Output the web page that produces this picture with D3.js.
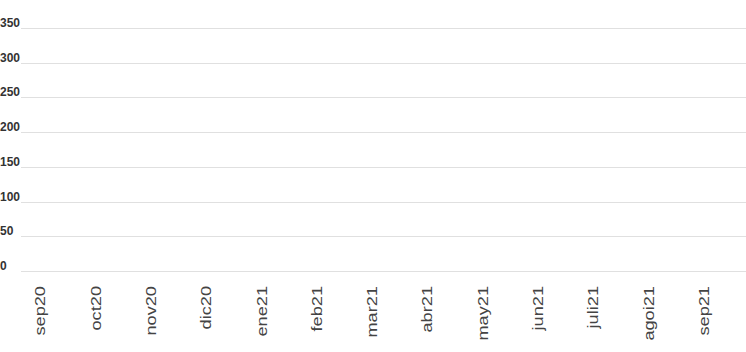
<!DOCTYPE html>
<html>
<head>
<meta charset="utf-8">
<script src="https://cdn.jsdelivr.net/npm/d3@7"></script>
<style>
  html, body { margin: 0; padding: 0; background: #fff; }
  svg { display: block; }
</style>
</head>
<body>
<svg id="chart" width="746" height="352"></svg>
<script>
const categories = ["sep20","oct20","nov20","dic20","ene21","feb21","mar21","abr21","may21","jun21","juli21","agoi21","sep21"];
const values = [0,0,0,0,0,0,0,0,0,0,0,0,0];
const yTicks = [0,50,100,150,200,250,300,350];

const svg = d3.select("#chart");
const W = 746, H = 352;

const x = d3.scaleBand().domain(categories).range([12.85, 731.65]).padding(0);
const y = d3.scaleLinear().domain([0, 350]).range([271, 28]);

// gridlines
const grid = svg.append("g");
grid.selectAll("line").data(yTicks).join("line")
  .attr("x1", 21).attr("x2", W)
  .attr("y1", d => Math.round(y(d)) + 0.5).attr("y2", d => Math.round(y(d)) + 0.5)
  .attr("stroke", "#e0e0e0").attr("stroke-width", 1);

// y labels
svg.append("g").selectAll("text").data(yTicks).join("text")
  .attr("x", 0).attr("y", d => Math.round(y(d)) - 1)
  .attr("font-family", "'Liberation Sans', Arial, sans-serif")
  .attr("font-size", 12).attr("font-weight", "bold")
  .attr("fill", "#333")
  .text(d => d);

// bars (values are zero, so nothing visible)
svg.append("g").selectAll("rect").data(values).join("rect")
  .attr("x", (d, i) => x(categories[i]) + x.bandwidth() * 0.2)
  .attr("width", x.bandwidth() * 0.6)
  .attr("y", d => y(d))
  .attr("height", d => y(0) - y(d))
  .attr("fill", "#4e79a7");

// x labels
svg.append("g").selectAll("text").data(categories).join("text")
  .attr("transform", d => `translate(${x(d) + x.bandwidth() / 2},286) rotate(-90) scale(1.3,1)`)
  .attr("dy", "0.35em")
  .attr("text-anchor", "end")
  .attr("font-family", "'Liberation Sans', Arial, sans-serif")
  .attr("font-size", 14)
  .attr("fill", "#444")
  .text(d => d);
</script>
</body>
</html>
